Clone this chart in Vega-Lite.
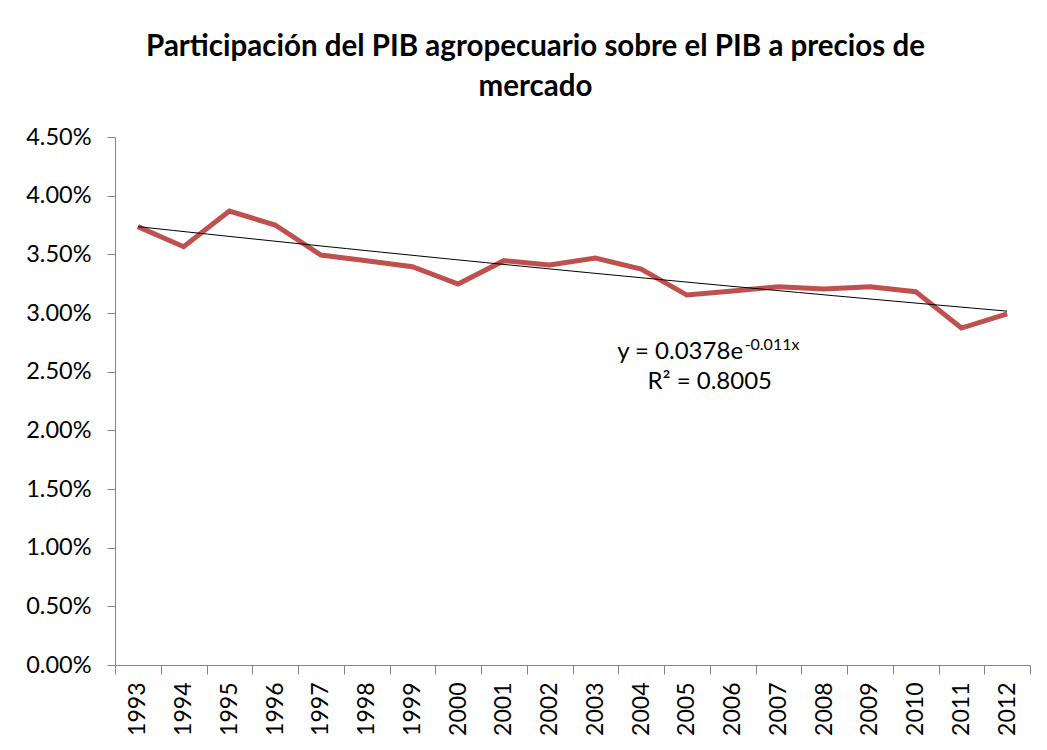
{
  "$schema": "https://vega.github.io/schema/vega-lite/v6.json",
  "autosize": {"type": "none"},
  "padding": {"left": 115, "top": 137, "right": 17, "bottom": 85},
  "width": 915,
  "height": 528,
  "background": "white",
  "config": {"view": {"stroke": null}, "font": "Lato"},
  "title": {
    "text": ["Participación del PIB agropecuario sobre el PIB a precios de", "mercado"],
    "font": "Lato",
    "fontSize": 29.5,
    "fontWeight": "bold",
    "color": "black",
    "anchor": "middle",
    "frame": "group",
    "dx": -37,
    "lineHeight": 40,
    "offset": 23
  },
  "datasets": {
    "main": [
      {"year": 1993, "value": 0.03736},
      {"year": 1994, "value": 0.03565},
      {"year": 1995, "value": 0.03869},
      {"year": 1996, "value": 0.03750},
      {"year": 1997, "value": 0.03494},
      {"year": 1998, "value": 0.03446},
      {"year": 1999, "value": 0.03395},
      {"year": 2000, "value": 0.03247},
      {"year": 2001, "value": 0.03446},
      {"year": 2002, "value": 0.03409},
      {"year": 2003, "value": 0.03469},
      {"year": 2004, "value": 0.03375},
      {"year": 2005, "value": 0.03153},
      {"year": 2006, "value": 0.03188},
      {"year": 2007, "value": 0.03224},
      {"year": 2008, "value": 0.03205},
      {"year": 2009, "value": 0.03224},
      {"year": 2010, "value": 0.03182},
      {"year": 2011, "value": 0.02872},
      {"year": 2012, "value": 0.02992}
    ],
    "ann": [
      {"kind": "eq", "x": 2004, "y": 0.02668, "label": "y = 0.0378e"},
      {"kind": "sup", "x": 2006, "y": 0.02727, "label": "-0.011x"},
      {"kind": "r2", "x": 2005.5, "y": 0.02412, "label": "R² = 0.8005"}
    ]
  },
  "layer": [
    {
      "data": {"name": "main"},
      "mark": {"type": "line", "color": "#C0504D", "strokeWidth": 5, "strokeJoin": "miter"},
      "encoding": {
        "x": {
          "field": "year", "type": "ordinal", "bandPosition": 0.5,
          "scale": {"type": "band", "paddingInner": 0, "paddingOuter": 0},
          "axis": {
            "title": null, "labelAngle": 270, "labelAlign": "right", "labelBaseline": "middle",
            "labelFont": "Lato", "labelFontSize": 23, "labelColor": "black", "labelPadding": 8,
            "tickBand": "extent", "tickSize": 9, "tickColor": "#868686", "domainColor": "#868686",
            "grid": false
          }
        },
        "y": {
          "field": "value", "type": "quantitative",
          "scale": {"domain": [0, 0.045], "nice": false, "zero": true},
          "axis": {
            "title": null, "format": ".2%", "values": [0, 0.005, 0.01, 0.015, 0.02, 0.025, 0.03, 0.035, 0.04, 0.045],
            "labelFont": "Lato", "labelFontSize": 23.5, "labelColor": "black", "labelPadding": 16,
            "tickSize": 8, "tickColor": "#868686", "domainColor": "#868686", "grid": false
          }
        }
      }
    },
    {
      "encoding": {
        "x": {"type": "quantitative", "scale": {"domain": [1992.5, 2012.5], "nice": false, "zero": false}, "axis": null}
      },
      "layer": [
        {
          "data": {"name": "main"},
          "transform": [{"regression": "value", "on": "year", "method": "exp", "extent": [1993, 2012]}],
          "mark": {"type": "line", "color": "black", "strokeWidth": 1},
          "encoding": {
            "x": {"field": "year", "type": "quantitative"},
            "y": {"field": "value", "type": "quantitative"}
          }
        },
        {
          "data": {"name": "ann"},
          "transform": [{"filter": "datum.kind === 'eq'"}],
          "mark": {"type": "text", "align": "left", "baseline": "middle", "fontSize": 24, "font": "Lato", "color": "black", "dx": -24},
          "encoding": {
            "x": {"field": "x", "type": "quantitative"},
            "y": {"field": "y", "type": "quantitative"},
            "text": {"field": "label"}
          }
        },
        {
          "data": {"name": "ann"},
          "transform": [{"filter": "datum.kind === 'sup'"}],
          "mark": {"type": "text", "align": "left", "baseline": "middle", "fontSize": 16, "font": "Lato", "color": "black", "dx": 12},
          "encoding": {
            "x": {"field": "x", "type": "quantitative"},
            "y": {"field": "y", "type": "quantitative"},
            "text": {"field": "label"}
          }
        },
        {
          "data": {"name": "ann"},
          "transform": [{"filter": "datum.kind === 'r2'"}],
          "mark": {"type": "text", "align": "center", "baseline": "middle", "fontSize": 24, "font": "Lato", "color": "black"},
          "encoding": {
            "x": {"field": "x", "type": "quantitative"},
            "y": {"field": "y", "type": "quantitative"},
            "text": {"field": "label"}
          }
        }
      ]
    }
  ],
  "resolve": {"scale": {"x": "independent"}, "axis": {"x": "independent"}}
}
